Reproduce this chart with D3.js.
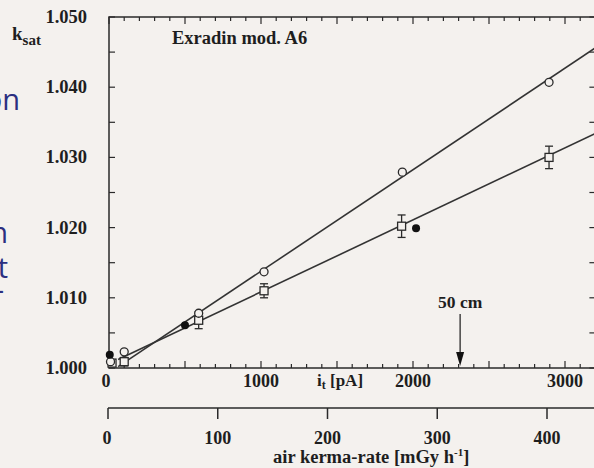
<!DOCTYPE html>
<html>
<head>
<meta charset="utf-8">
<script src="https://cdn.jsdelivr.net/npm/d3@7"></script>
<style>
  body { margin: 0; background: #f4f1ee; }
  svg { display: block; }
  text { font-family: "Liberation Serif", "Times New Roman", serif; font-weight: bold; fill: #1e1e1e; }
</style>
</head>
<body>
<svg width="594" height="468"></svg>
<script>
const width = 594, height = 468;
const svg = d3.select("svg");

// data
const circleI = [10, 100, 590, 1020, 1930, 2895];
const circleK = [1.0009, 1.0023, 1.0078, 1.0137, 1.0279, 1.0407];
const squareI = [20, 100, 590, 1020, 1925, 2895];
const squareK = [1.0007, 1.0009, 1.0068, 1.0110, 1.0202, 1.0300];
const squareErr = [0.0004, 0.0006, 0.0012, 0.0010, 0.0016, 0.0016];
const filledI = [5, 500, 2020];
const filledK = [1.0019, 1.0061, 1.0199];
const fitI = [60, 3200];
const fitUpper = [1.0002, 1.0456];
const fitLower = [1.0012, 1.0334];
const yTicks = [1.000, 1.010, 1.020, 1.030, 1.040, 1.050];
const xTicks = [0, 1000, 2000, 3000];
const kermaTicks = [0, 100, 200, 300, 400];
const arrowI = 2310;

const x = d3.scaleLinear().domain([0, 3200]).range([109, 595.4]);
const y = d3.scaleLinear().domain([1.000, 1.050]).range([368, 17]);
const kerma = d3.scaleLinear().domain([0, 400]).range([108, 547]);

const ink = "#2a2a2a";

// left slide text fragments (cut off)
const blue = "#2b2f80";
[["on", 20, 110], ["n", 8, 243], ["t", 8, 278], ["-", 4, 300]].forEach(([t, tx, ty]) => {
    svg.append("text")
        .attr("x", tx).attr("y", ty)
        .attr("text-anchor", "end")
        .style("font-family", "'Open Sans', sans-serif")
        .style("font-weight", "normal")
        .style("font-size", "29px")
        .style("fill", blue)
        .text(t);
});

// frame
svg.append("rect")
    .attr("x", x(0)).attr("y", y(1.050))
    .attr("width", x(3200) - x(0)).attr("height", y(1.000) - y(1.050))
    .attr("fill", "none").attr("stroke", ink).attr("stroke-width", 1.5);

// x ticks (inside, bottom and top)
const xMinor = d3.range(0, 3201, 100);
xMinor.forEach(v => {
    const len = v % 500 === 0 ? 7 : 4;
    svg.append("line").attr("x1", x(v)).attr("x2", x(v))
        .attr("y1", y(1.000)).attr("y2", y(1.000) - len)
        .attr("stroke", ink).attr("stroke-width", 1.2);
    svg.append("line").attr("x1", x(v)).attr("x2", x(v))
        .attr("y1", y(1.050)).attr("y2", y(1.050) + len)
        .attr("stroke", ink).attr("stroke-width", 1.2);
});

// y ticks (inside, left and right)
d3.range(0, 11).map(i => 1 + i * 0.005).forEach(v => {
    svg.append("line").attr("x1", x(0)).attr("x2", x(0) + 6)
        .attr("y1", y(v)).attr("y2", y(v))
        .attr("stroke", ink).attr("stroke-width", 1.2);
    svg.append("line").attr("x1", x(3200)).attr("x2", x(3200) - 6)
        .attr("y1", y(v)).attr("y2", y(v))
        .attr("stroke", ink).attr("stroke-width", 1.2);
});

// y labels
svg.selectAll(".ylab")
    .data(yTicks)
    .enter().append("text")
    .attr("class", "ylab")
    .attr("x", 87)
    .attr("y", d => y(d) + 6)
    .attr("text-anchor", "end")
    .style("font-size", "18.5px")
    .text(d => d3.format(".3f")(d));

// x labels
svg.selectAll(".xlab")
    .data(xTicks)
    .enter().append("text")
    .attr("class", "xlab")
    .attr("x", d => x(d) - (d === 0 ? 3 : 0))
    .attr("y", 387)
    .attr("text-anchor", "middle")
    .style("font-size", "18px")
    .text(d => d);

// axis titles
const ks = svg.append("text").attr("x", 12).attr("y", 40).style("font-size", "19px");
ks.append("tspan").text("k");
ks.append("tspan").attr("dy", 5).style("font-size", "15px").text("sat");

const it = svg.append("text").attr("x", 317).attr("y", 386).style("font-size", "17px");
it.append("tspan").text("i");
it.append("tspan").attr("dy", 3).style("font-size", "12px").text("t");
it.append("tspan").attr("dy", -3).text(" [pA]");

svg.append("text")
    .attr("x", 172).attr("y", 44)
    .style("font-size", "18.5px")
    .text("Exradin mod. A6");

// kerma-rate axis
svg.append("line")
    .attr("x1", kerma(0)).attr("x2", width + 2)
    .attr("y1", 408).attr("y2", 408)
    .attr("stroke", ink).attr("stroke-width", 1.5);
svg.selectAll(".ktick")
    .data(kermaTicks)
    .enter().append("line")
    .attr("class", "ktick")
    .attr("x1", d => kerma(d)).attr("x2", d => kerma(d))
    .attr("y1", 408).attr("y2", 419)
    .attr("stroke", ink).attr("stroke-width", 1.5);
svg.selectAll(".klab")
    .data(kermaTicks)
    .enter().append("text")
    .attr("class", "klab")
    .attr("x", d => kerma(d) - (d === 0 ? 1 : 0))
    .attr("y", 444)
    .attr("text-anchor", "middle")
    .style("font-size", "18px")
    .text(d => d);

const kt = svg.append("text").attr("x", 273).attr("y", 463).style("font-size", "18.5px");
kt.append("tspan").text("air kerma-rate [mGy h");
kt.append("tspan").attr("dy", -7).style("font-size", "11px").text("-1");
kt.append("tspan").attr("dy", 7).text("]");

// fitted lines
const fitLine = d3.line().x(d => x(d[0])).y(d => y(d[1]));
[fitUpper, fitLower].forEach(k => {
    svg.append("path")
        .datum(fitI.map((v, i) => [v, k[i]]))
        .attr("d", fitLine)
        .attr("fill", "none")
        .attr("stroke", "#333")
        .attr("stroke-width", 1.6);
});

// error bars on squares
const sq = squareI.map((v, i) => ({ i: v, k: squareK[i], e: squareErr[i] }));
sq.forEach(d => {
    const cx = x(d.i);
    svg.append("line").attr("x1", cx).attr("x2", cx)
        .attr("y1", y(d.k - d.e)).attr("y2", y(d.k + d.e))
        .attr("stroke", ink).attr("stroke-width", 1.3);
    [d.k - d.e, d.k + d.e].forEach(v => {
        svg.append("line").attr("x1", cx - 4).attr("x2", cx + 4)
            .attr("y1", y(v)).attr("y2", y(v))
            .attr("stroke", ink).attr("stroke-width", 1.3);
    });
});

// open squares
svg.selectAll(".sq")
    .data(sq)
    .enter().append("rect")
    .attr("class", "sq")
    .attr("x", d => x(d.i) - 4)
    .attr("y", d => y(d.k) - 4)
    .attr("width", 8).attr("height", 8)
    .attr("fill", "#f4f1ee")
    .attr("stroke", ink).attr("stroke-width", 1.3);

// open circles
svg.selectAll(".oc")
    .data(circleI.map((v, i) => ({ i: v, k: circleK[i] })))
    .enter().append("circle")
    .attr("class", "oc")
    .attr("cx", d => x(d.i))
    .attr("cy", d => y(d.k))
    .attr("r", 4)
    .attr("fill", "#f4f1ee")
    .attr("stroke", ink).attr("stroke-width", 1.3);

// filled circles
svg.selectAll(".fc")
    .data(filledI.map((v, i) => ({ i: v, k: filledK[i] })))
    .enter().append("circle")
    .attr("class", "fc")
    .attr("cx", d => x(d.i))
    .attr("cy", d => y(d.k))
    .attr("r", 4)
    .attr("fill", "#111");

// 50 cm marker
svg.append("text")
    .attr("x", x(arrowI)).attr("y", 308)
    .attr("text-anchor", "middle")
    .style("font-size", "17.5px")
    .text("50 cm");
svg.append("line")
    .attr("x1", x(arrowI)).attr("x2", x(arrowI))
    .attr("y1", 314).attr("y2", 354)
    .attr("stroke", ink).attr("stroke-width", 1.3);
svg.append("path")
    .attr("d", `M${x(arrowI) - 4},352 L${x(arrowI) + 4},352 L${x(arrowI)},${y(1.000) - 2} Z`)
    .attr("fill", "#111");
</script>
</body>
</html>
